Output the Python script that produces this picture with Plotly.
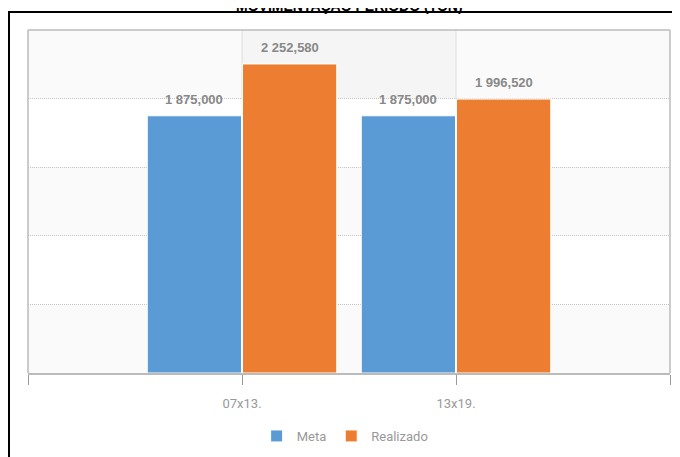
import plotly.graph_objects as go

categories = ["07x13.", "13x19."]
meta = [1875000, 1875000]
realizado = [2252580, 1996520]
meta_labels = ["1 875,000", "1 875,000"]
realizado_labels = ["2 252,580", "1 996,520"]
y_max = 2500000
grid_step = 500000

xpos = list(range(len(categories)))

W, H = 664, 470
ML, MR, MT, MB = 20, 2, 22, 105
PW, PH = W - ML - MR, H - MT - MB

fig = go.Figure()
fig.add_trace(go.Bar(name="Meta", x=xpos, y=meta, marker=dict(color="#5B9BD5", line=dict(color="white", width=1)),
                     hoverinfo="skip"))
fig.add_trace(go.Bar(name="Realizado", x=xpos, y=realizado, marker=dict(color="#ED7D31", line=dict(color="white", width=1)),
                     hoverinfo="skip"))

shapes = []
b = 0
i = 0
while b < y_max:
    if i % 2 == 0:
        shapes.append(dict(type="rect", xref="paper", yref="y", x0=0, x1=1, y0=b, y1=b + grid_step,
                           fillcolor="#fafafa", line=dict(width=0), layer="below"))
    b += grid_step
    i += 1
shapes.append(dict(type="rect", xref="x", yref="y", x0=0, x1=1, y0=y_max - grid_step, y1=y_max,
                   fillcolor="#f5f5f5", line=dict(width=0), layer="below"))
for xp in xpos:
    shapes.append(dict(type="line", xref="x", yref="y", x0=xp, x1=xp, y0=y_max - grid_step, y1=y_max,
                       line=dict(color="#c4c4c4", width=1, dash="1px,1px"), layer="below"))
shapes.append(dict(type="line", xref="paper", yref="paper", x0=0, x1=0, y0=0, y1=1, line=dict(color="#bbbbbb", width=1.5)))
shapes.append(dict(type="line", xref="paper", yref="paper", x0=1, x1=1, y0=0, y1=1, line=dict(color="#bbbbbb", width=1.5)))
shapes.append(dict(type="line", xref="paper", yref="paper", x0=0, x1=1, y0=1, y1=1, line=dict(color="#bbbbbb", width=1.5)))
# outer black frame (partly clipped)
fx0 = (1 - ML) / PW
fy1 = 1 + (MT - 4) / PH
shapes.append(dict(type="rect", xref="paper", yref="paper", x0=fx0, x1=1.2, y0=-0.5, y1=fy1,
                   line=dict(color="black", width=2), fillcolor="rgba(0,0,0,0)"))

annotations = []
lab_font = dict(family="Liberation Sans, Arial", size=13, color="#888888", weight="bold")
for j, xp in enumerate(xpos):
    annotations.append(dict(x=xp - 0.225, y=meta[j], xref="x", yref="y", text=meta_labels[j], showarrow=False,
                            yanchor="bottom", yshift=7, font=lab_font))
    annotations.append(dict(x=xp + 0.225, y=realizado[j], xref="x", yref="y", text=realizado_labels[j], showarrow=False,
                            yanchor="bottom", yshift=7, font=lab_font))
# chart title (mostly above the visible area, as in the source)
annotations.append(dict(x=0.5, xref="paper", yref="paper", y=1 + (MT - 8) / PH, yanchor="bottom", showarrow=False,
                        text="<b>MOVIMENTAÇÃO PERÍODO (TON)</b>",
                        font=dict(family="Liberation Sans, Arial", size=14, color="black")))

fig.update_layout(
    width=W, height=H,
    margin=dict(l=ML, r=MR, t=MT, b=MB),
    paper_bgcolor="white", plot_bgcolor="white",
    barmode="group", bargap=0.11, bargroupgap=0.01,
    showlegend=True,
    legend=dict(orientation="h", x=0.494, xanchor="center", y=-(428 - (MT + PH)) / PH, yanchor="middle",
                font=dict(family="Roboto", size=13, color="#999999"), itemwidth=30),
    shapes=shapes,
    annotations=annotations,
    xaxis=dict(range=[-1, 2], tickvals=[-1, 0, 1, 2], ticktext=[""] + categories + [""],
               ticks="outside", ticklen=10, tickcolor="#999999", tickwidth=1, ticklabelstandoff=7,
               showgrid=False, zeroline=False, showline=True, linecolor="#bbbbbb", linewidth=2,
               tickfont=dict(family="Roboto", size=13, color="#999999"), fixedrange=True),
    yaxis=dict(range=[0, y_max], dtick=grid_step, showticklabels=False, showgrid=True,
               gridcolor="#c4c4c4", griddash="1px,1px", gridwidth=1, zeroline=False, showline=False, fixedrange=True),
)

fig.write_html("out.html")
